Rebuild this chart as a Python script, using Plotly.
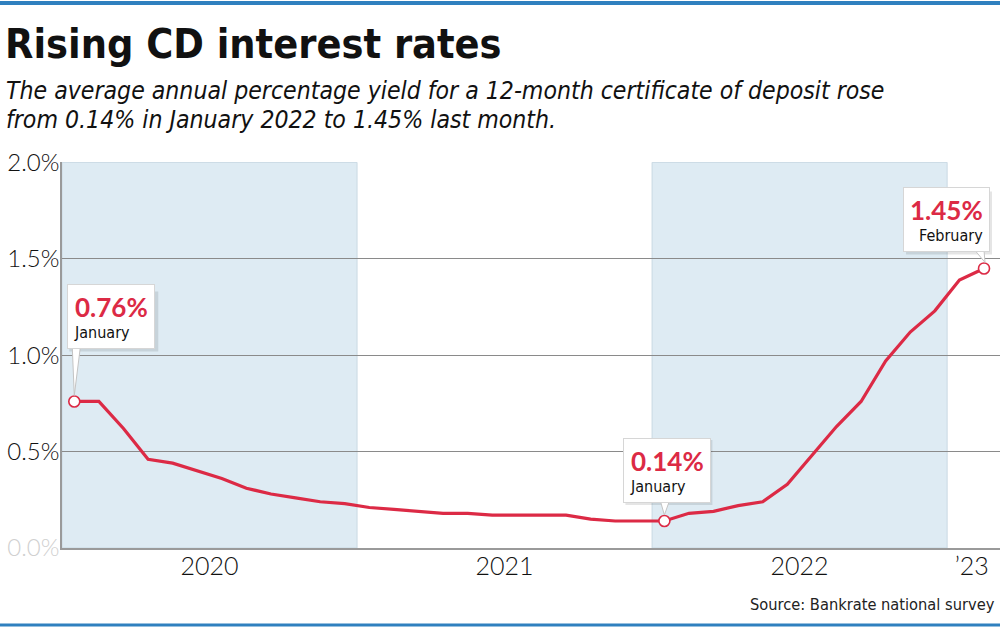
import plotly.graph_objects as go

# ---- data ----
months = ["Jan 2020","Feb 2020","Mar 2020","Apr 2020","May 2020","Jun 2020","Jul 2020","Aug 2020",
          "Sep 2020","Oct 2020","Nov 2020","Dec 2020",
          "Jan 2021","Feb 2021","Mar 2021","Apr 2021","May 2021","Jun 2021","Jul 2021","Aug 2021",
          "Sep 2021","Oct 2021","Nov 2021","Dec 2021",
          "Jan 2022","Feb 2022","Mar 2022","Apr 2022","May 2022","Jun 2022","Jul 2022","Aug 2022",
          "Sep 2022","Oct 2022","Nov 2022","Dec 2022",
          "Jan 2023","Feb 2023"]
apy = [0.76, 0.76, 0.62, 0.46, 0.44, 0.40, 0.36, 0.31, 0.28, 0.26, 0.24, 0.23,
       0.21, 0.20, 0.19, 0.18, 0.18, 0.17, 0.17, 0.17, 0.17, 0.15, 0.14, 0.14,
       0.14, 0.18, 0.19, 0.22, 0.24, 0.33, 0.48, 0.63, 0.76, 0.97, 1.12, 1.23,
       1.39, 1.45]
year_labels = ["2020", "2021", "2022", "\u201923"]
year_label_pos = [5.5, 17.5, 29.5, 36.5]
y_ticks = [0, 0.5, 1.0, 1.5, 2.0]
y_tick_text = ["0.0%", "0.5%", "1.0%", "1.5%", "2.0%"]
callout_idx = [0, 24, 37]
callout_value = ["0.76%", "0.14%", "1.45%"]
callout_month = ["January", "January", "February"]
band_spans = [(-0.5, 11.5), (23.5, 35.5)]

x = list(range(len(months)))

RED = "#dc2a45"
BAND = "#deebf3"
GRID = "#8a8a8a"
BLUE = "#2f80bf"
NARROW = "Liberation Sans Narrow, DejaVu Sans Condensed, Arial Narrow, sans-serif"
GEO = "Lato, Open Sans, sans-serif"

W, H = 1000, 628
L, R, T, B = 62, 0, 162, 80
PW, PH = W - L - R, H - T - B

def px(xp):
    return (xp - L) / PW

def py(yp):
    return (H - B - yp) / PH

fig = go.Figure()

fig.add_trace(go.Scatter(
    x=x, y=apy, mode="lines",
    line=dict(color=RED, width=3.2),
    hoverinfo="skip", showlegend=False,
))
fig.add_trace(go.Scatter(
    x=[x[i] for i in callout_idx], y=[apy[i] for i in callout_idx], mode="markers",
    marker=dict(size=11, color="white", line=dict(color=RED, width=1.6)),
    hoverinfo="skip", showlegend=False, cliponaxis=False,
))

shapes = []
for a, b in band_spans:
    shapes.append(dict(type="rect", xref="x", yref="y", x0=a, x1=b, y0=0, y1=2.0,
                       fillcolor=BAND, line=dict(color="#c9d9e3", width=1), layer="below"))
# top / bottom blue rules
shapes.append(dict(type="line", xref="paper", yref="paper", x0=px(0), x1=px(W),
                   y0=py(3), y1=py(3), line=dict(color=BLUE, width=4)))
shapes.append(dict(type="line", xref="paper", yref="paper", x0=px(0), x1=px(W),
                   y0=py(625), y1=py(625), line=dict(color=BLUE, width=3)))

# callout box drop shadows (pixel rects relative to the data point: x0,x1,y0,y1)
shadow_rects = [
    (-5, 84, 50, 110),
    (-39, 48, 16, 81),
    (-78, 8, 14, 77),
]
for k, i in enumerate(callout_idx):
    x0, x1, y0, y1 = shadow_rects[k]
    shapes.append(dict(type="rect", xref="x", yref="y", xsizemode="pixel", ysizemode="pixel",
                       xanchor=x[i], yanchor=apy[i], x0=x0, x1=x1, y0=y0, y1=y1,
                       fillcolor="rgba(0,0,0,0.10)", line=dict(width=0), layer="above"))

# callout pointers (pixel offsets relative to the data point)
pointer_paths = [
    "M -2,54 L 6,54 L 0,6 Z",
    "M -4,20 L 5,20 L 0,6 Z",
    "M -9,18 L 0,18 L 1,6 Z",
]
for k, i in enumerate(callout_idx):
    shapes.append(dict(type="path", xref="x", yref="y", xsizemode="pixel", ysizemode="pixel",
                       xanchor=x[i], yanchor=apy[i], path=pointer_paths[k],
                       fillcolor="white", line=dict(color="#c4c4c4", width=1), layer="above"))

annotations = []
# title & subtitle
annotations.append(dict(xref="paper", yref="paper", x=px(3), y=py(44), xanchor="left", yanchor="middle",
                        text="<b>Rising CD interest rates</b>", showarrow=False,
                        font=dict(family=NARROW, size=41, color="#111111")))
annotations.append(dict(xref="paper", yref="paper", x=px(4), y=py(90), xanchor="left", yanchor="middle",
                        text="<i>The average annual percentage yield for a 12-month certificate of deposit rose</i>",
                        showarrow=False, font=dict(family=NARROW, size=24.6, color="#111111")))
annotations.append(dict(xref="paper", yref="paper", x=px(4), y=py(119), xanchor="left", yanchor="middle",
                        text="<i>from 0.14% in January 2022 to 1.45% last month.</i>",
                        showarrow=False, font=dict(family=NARROW, size=24.6, color="#111111")))
# source
annotations.append(dict(xref="paper", yref="paper", x=px(997), y=py(604), xanchor="right", yanchor="middle",
                        text="Source: Bankrate national survey", showarrow=False,
                        font=dict(family=NARROW, size=16.3, color="#222222")))

# callout boxes
box_cfg = [
    dict(xanchor="left", xshift=-7, yshift=52, align="left"),
    dict(xanchor="left", xshift=-41, yshift=18, align="left"),
    dict(xanchor="right", xshift=6, yshift=16, align="right"),
]
for k, i in enumerate(callout_idx):
    txt = (f"<span style='font-family:{GEO};font-size:26px;color:{RED}'><b>{callout_value[k]}</b></span>"
           f"<br>{callout_month[k]}")
    c = box_cfg[k]
    annotations.append(dict(xref="x", yref="y", x=x[i], y=apy[i], xanchor=c["xanchor"], yanchor="bottom",
                            xshift=c["xshift"], yshift=c["yshift"], align=c["align"],
                            text=txt, showarrow=False,
                            font=dict(family=NARROW, size=16, color="#111111"),
                            bgcolor="white", bordercolor="#d6d6d6", borderwidth=1, borderpad=6))

tick_text = [f"<span style='color:#d0d0d0'>{t}</span>" if v == 0 else t
             for v, t in zip(y_ticks, y_tick_text)]

fig.update_layout(
    width=W, height=H,
    margin=dict(l=L, r=R, t=T, b=B, pad=0),
    paper_bgcolor="white", plot_bgcolor="white",
    showlegend=False,
    xaxis=dict(range=[-0.5, 37.65], tickvals=year_label_pos, ticktext=year_labels,
               showgrid=False, zeroline=False, showline=True, linecolor="#9a9a9a", linewidth=1.5,
               ticks="", ticklen=0, ticklabelstandoff=-5,
               tickfont=dict(family=GEO, size=25, weight=300, color="#111111")),
    yaxis=dict(range=[0, 2.002], tickvals=y_ticks, ticktext=tick_text,
               showgrid=True, gridcolor=GRID, gridwidth=1, zeroline=False,
               showline=True, linecolor="#9a9a9a", linewidth=1.5, ticks="", ticklen=0,
               ticklabelstandoff=-4,
               tickfont=dict(family=GEO, size=24, weight=300, color="#111111")),
    shapes=shapes,
    annotations=annotations,
)

fig.write_html("out.html", config={"displayModeBar": False},
               post_script="document.body.style.margin='0';document.body.style.overflow='hidden';")
